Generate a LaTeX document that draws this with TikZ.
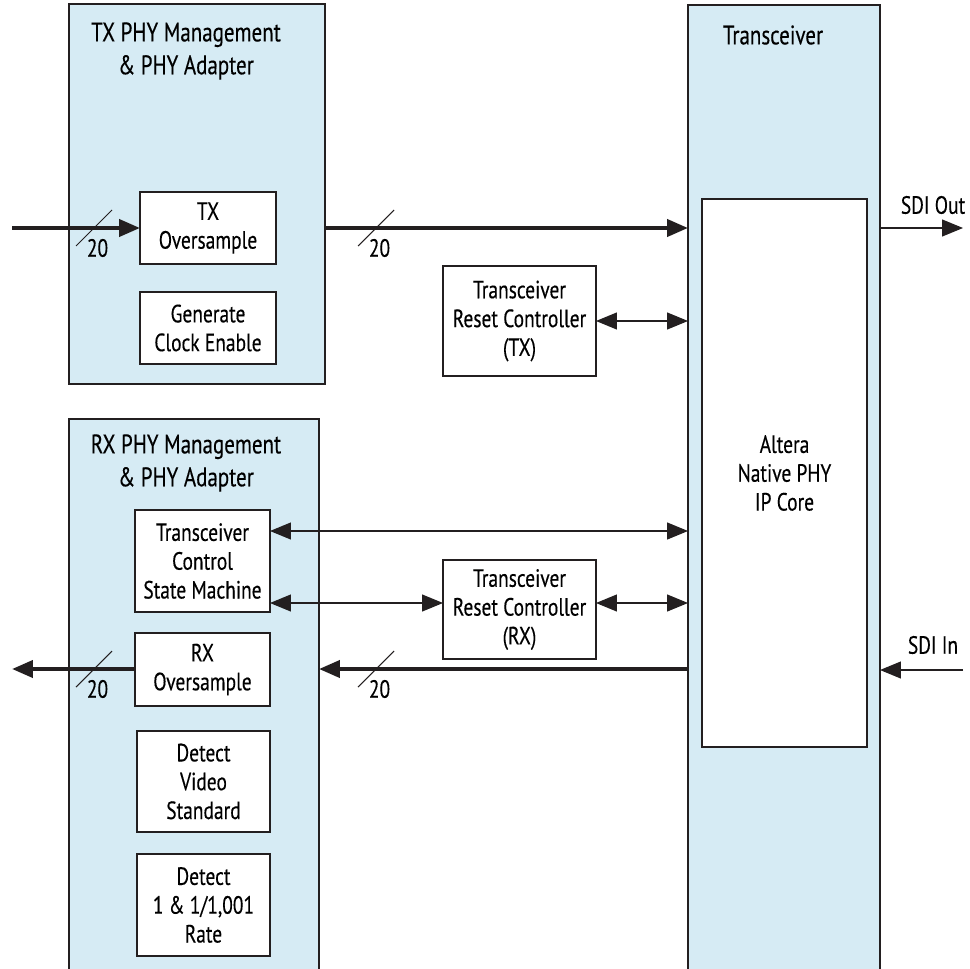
\documentclass[tikz,border=0pt]{standalone}
\usepackage{fontspec}
\setmainfont{PT Sans}[FakeStretch=0.78,FakeBold=0.3]
\usetikzlibrary{arrows.meta}

\definecolor{phyblue}{RGB}{214,235,244}
\definecolor{inkc}{RGB}{35,31,32}

\tikzset{
	grp/.style={draw=inkc,fill=phyblue,line width=0.8pt,inner sep=0,outer sep=0},
	blk/.style={draw=inkc,fill=white,line width=0.7pt,inner sep=0,outer sep=0,align=center,font=\fontsize{14.2}{16.4}\selectfont},
	ttl/.style={align=center,inner sep=0,font=\fontsize{15.3}{18.7}\selectfont},
	lbl/.style={inner sep=0,font=\fontsize{14.2}{16}\selectfont},
	bus/.style={draw=inkc,line width=2.3pt,-{Triangle[length=0.42cm,width=0.34cm]}},
	ctl/.style={draw=inkc,line width=0.7pt,-{Triangle[length=0.42cm,width=0.34cm]}},
	ctlboth/.style={draw=inkc,line width=0.7pt,{Triangle[length=0.42cm,width=0.34cm]}-{Triangle[length=0.42cm,width=0.34cm]}}
}

% bus width slash with its label
\newcommand\busmark[1]{
	\draw[inkc,line width=0.6pt] (#1) ++(-18,18) -- ++(36,-36);
	\node[lbl] at ([shift={(0.07cm,-0.4cm)}]#1) {20};
}

\begin{document}
\begin{tikzpicture}[x=0.02cm,y=-0.02cm]
	\useasboundingbox (0,0) rectangle (969,969);
	\clip (0,0) rectangle (969,969);

	% group boxes
	\node[grp,minimum width=5.12cm,minimum height=7.6cm] (txphy) at (197,194) {};
	\node[grp,minimum width=5.0cm,minimum height=11.42cm] (rxphy) at (194,704.5) {};
	\node[grp,minimum width=3.84cm,minimum height=19.7cm] (xcvr) at (784,497.5) {};
	\node[ttl] (txttl) at (186,51) {TX PHY Management\\\& PHY Adapter};
	\node[ttl] (rxttl) at (186,463) {RX PHY Management\\\& PHY Adapter};
	\node[ttl] (xcvrttl) at (773,35) {Transceiver};

	% blocks
	\node[blk,minimum width=3.3cm,minimum height=10.96cm] (native) at (784.5,473) {Altera\\Native PHY\\IP Core};
	\node[blk,minimum width=2.72cm,minimum height=1.44cm] (txos) at (208,228) {TX\\Oversample};
	\node[blk,minimum width=2.72cm,minimum height=1.44cm] (genclk) at (208,328) {Generate\\Clock Enable};
	\node[blk,minimum width=3.06cm,minimum height=2.2cm] (txrst) at (519.5,321) {Transceiver\\Reset Controller\\(TX)};
	\node[blk,minimum width=2.7cm,minimum height=2.04cm] (ctrl) at (202.5,561) {Transceiver\\Control\\State Machine};
	\node[blk,minimum width=3.06cm,minimum height=1.98cm] (rxrst) at (519.5,609.5) {Transceiver\\Reset Controller\\(RX)};
	\node[blk,minimum width=2.7cm,minimum height=1.46cm] (rxos) at (202.5,669.5) {RX\\Oversample};
	\node[blk,minimum width=2.66cm,minimum height=2.02cm] (detvid) at (203.5,781.5) {Detect\\Video\\Standard};
	\node[blk,minimum width=2.66cm,minimum height=2.04cm] (detrate) at (203.5,905) {Detect\\1 \& 1/1,001\\Rate};

	% free ends and rows
	\coordinate (txin) at (12,228);
	\coordinate (rxout) at (12,669);
	\coordinate (sdiout) at (963,228);
	\coordinate (sdiin) at (963,670);
	\coordinate (row1) at (0,531);
	\coordinate (row2) at (0,603);
	\coordinate (row3) at (0,669);

	% TX path
	\draw[bus] (txin) -- (txos.west);
	\draw[bus] (txphy.east |- txos) -- (xcvr.west |- txos);
	\draw[ctlboth] (txrst.east) -- (xcvr.west |- txrst.east);
	\draw[ctl] (xcvr.east |- txos) -- (sdiout);
	\node[lbl] (sdioutl) at (933,205) {SDI Out};

	% RX path
	\draw[ctlboth] (ctrl.east |- row1) -- (xcvr.west |- row1);
	\draw[ctlboth] (ctrl.east |- row2) -- (rxrst.west |- row2);
	\draw[ctlboth] (rxrst.east |- row2) -- (xcvr.west |- row2);
	\draw[bus] (xcvr.west |- row3) -- (rxphy.east |- row3);
	\draw[bus] (rxos.west |- row3) -- (rxout);
	\draw[ctl] (sdiin) -- (xcvr.east |- sdiin);
	\node[lbl] (sdiinl) at (933,645) {SDI In};

	% bus widths
	\coordinate (w1) at (94,228);
	\coordinate (w2) at (376,228);
	\coordinate (w3) at (376,669);
	\coordinate (w4) at (94,669);
	\busmark{w1}
	\busmark{w2}
	\busmark{w3}
	\busmark{w4}
\end{tikzpicture}
\end{document}
